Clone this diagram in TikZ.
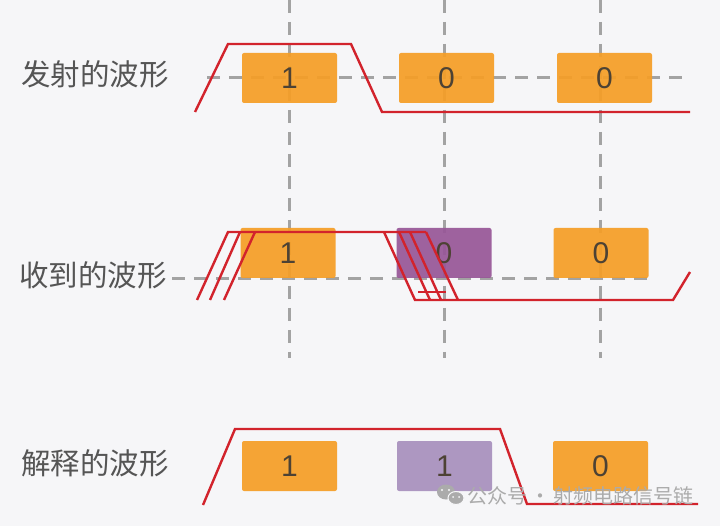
\documentclass[tikz,border=0pt]{standalone}
\usepackage{fontspec}
\setmainfont{Liberation Sans}
\newfontfamily\cjk{Noto Sans CJK SC}
\definecolor{bgc}{HTML}{F6F6F8}
\definecolor{boxor}{HTML}{F59E27}
\definecolor{boxpu}{HTML}{985798}
\definecolor{boxlp}{HTML}{A890BD}
\definecolor{wave}{HTML}{D2232C}
\definecolor{dashc}{HTML}{A3A3A3}
\definecolor{labc}{HTML}{555555}
\definecolor{digc}{HTML}{4D4234}
\definecolor{wmc}{HTML}{ABABAB}
\tikzset{
  bitbox/.style={rounded corners=2pt, minimum width=95pt, minimum height=50pt, inner sep=0pt,
     font=\fontsize{30}{31}\selectfont, text=digc, fill opacity=0.93, text opacity=1},
  guide/.style={draw=dashc, line width=3pt, dash pattern=on 13pt off 9pt},
  sig/.style={draw=wave, line width=2.4pt, line join=miter},
  rowlabel/.style={anchor=west, inner sep=0pt, text=labc, font=\cjk\fontsize{29.5}{31}\selectfont}
}
\begin{document}
\begin{tikzpicture}[x=1pt,y=-1pt]
\fill[bgc] (0,0) rectangle (720,526);
\useasboundingbox (0,0) rectangle (720,526);

% guides
\draw[guide] (289,0) -- (289,358);
\draw[guide] (444,0) -- (444,358);
\draw[guide] (600,0) -- (600,358);
\draw[guide] (207,78) -- (690,78);
\draw[guide] (172,279) -- (655,279);

% labels
\node[rowlabel] (l1) at (21,74) {发射的波形};
\node[rowlabel] (l2) at (19,275) {收到的波形};
\node[rowlabel] (l3) at (21,463) {解释的波形};

% top row boxes
\node[bitbox, fill=boxor] (t1) at (289.5,78) {1};
\node[bitbox, fill=boxor] (t2) at (446.5,78) {0};
\node[bitbox, fill=boxor] (t3) at (604.5,78) {0};

% middle row boxes
\node[bitbox, fill=boxor] (m1) at (288,253) {1};
\node[bitbox, fill=boxpu] (m2) at (444,253) {0};
\node[bitbox, fill=boxor] (m3) at (601,253) {0};

% bottom row boxes
\node[bitbox, fill=boxor] (b1) at (289.5,466) {1};
\node[bitbox, fill=boxlp] (b2) at (444.5,466) {1};
\node[bitbox, fill=boxor] (b3) at (600.5,466) {0};

% transmitted waveform
\draw[sig] (195,112) -- (228,44) -- (351,44) -- (382,112) -- (690,112);

% received waveform (jittered edges)
\draw[sig] (197,300) -- (228,232) -- (426,232);
\draw[sig] (210,300) -- (240,232);
\draw[sig] (224,300) -- (255,232);
\draw[sig] (384,232) -- (415,300) -- (673,300) -- (690,272);
\draw[sig] (399,232) -- (430,300);
\draw[sig] (410,232) -- (441,300);
\draw[sig] (426,232) -- (458,300);
\draw[sig, line width=1.6pt] (418,292) -- (446,292);

% interpreted waveform
\draw[sig] (203,505) -- (235,429) -- (500,429) -- (527,504) -- (698,504);

% watermark
\fill[wmc] (446,492) ellipse (9pt and 7.5pt);
\fill[wmc, draw=bgc, line width=1pt] (456,498) ellipse (8pt and 6.5pt);
\fill[bgc] (442,490) circle (1.2pt) (449,490) circle (1.2pt) (453,497) circle (1pt) (459,497) circle (1pt);
\node[anchor=west, inner sep=0pt, text=wmc, font=\cjk\fontsize{20}{22}\selectfont] (wm) at (467,496) {公众号\,·\,射频电路信号链};
\end{tikzpicture}
\end{document}
